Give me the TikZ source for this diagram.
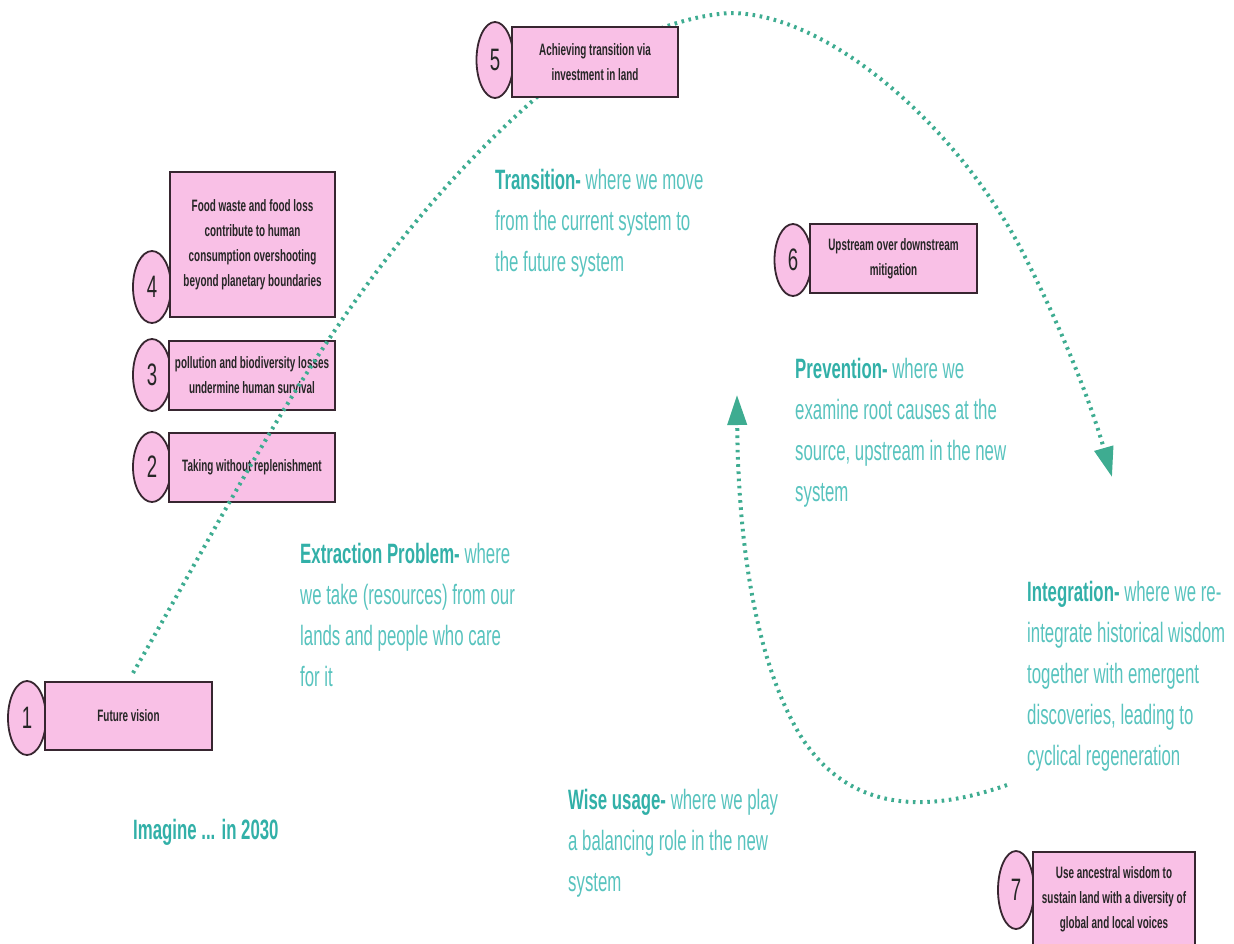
\documentclass[tikz,border=0pt]{standalone}
\usepackage{fontspec}
\setmainfont{Liberation Sans}[FakeStretch=0.6]
\usetikzlibrary{shapes.geometric,arrows.meta}
\definecolor{pinkfill}{RGB}{249,192,230}
\definecolor{boxline}{RGB}{55,38,48}
\definecolor{tealtxt}{RGB}{88,195,190}
\definecolor{tealbold}{RGB}{50,176,168}
\definecolor{dotcol}{RGB}{62,172,145}
\tikzset{
  numell/.style={ellipse, draw=boxline, line width=1.8pt, fill=pinkfill, inner sep=0pt,
    font=\fontsize{31}{31}\selectfont, text=black!85},
  pinkbox/.style={rectangle, draw=boxline, line width=2.2pt, fill=pinkfill, inner sep=0pt,
    align=center, font=\bfseries\fontsize{16.5}{25}\selectfont, text=black!85},
  tealnote/.style={anchor=base west, align=left, inner sep=0pt, text=tealtxt,
    font=\fontsize{28}{41}\selectfont},
  cyclearrow/.style={draw=dotcol, line width=4pt, dash pattern=on 2.6pt off 4.6pt,
    -{Triangle[length=30pt,width=19pt]}},
}
\newcommand{\hd}[1]{\textcolor{tealbold}{\bfseries #1}}
\begin{document}
\begin{tikzpicture}[x=1pt,y=-1pt]
\useasboundingbox (0,0) rectangle (1234,943);

% boxes 1-4
\node[numell, minimum width=38pt, minimum height=74pt] (n1) at (27,718) {1};
\node[pinkbox, minimum width=167pt, minimum height=68pt] (b1) at (128.5,716) {Future vision};
\node[numell, minimum width=38pt, minimum height=70pt] (n2) at (152,467) {2};
\node[pinkbox, minimum width=166pt, minimum height=69pt] (b2) at (252,467.5) {Taking without replenishment};
\node[numell, minimum width=38pt, minimum height=72pt] (n3) at (152,375) {3};
\node[pinkbox, minimum width=166pt, minimum height=69pt] (b3) at (252,375.5) {pollution and biodiversity losses\\undermine human survival};
\node[numell, minimum width=38pt, minimum height=72pt] (n4) at (152,287) {4};
\node[pinkbox, minimum width=165pt, minimum height=145pt] (b4) at (252.5,244.5) {Food waste and food loss\\contribute to human\\consumption overshooting\\beyond planetary boundaries};

% cycle curves
\coordinate (c1s) at (133,673);
\coordinate (c1e) at (1112,477);
\coordinate (c2s) at (1007,785);
\coordinate (c2e) at (737,395);
\draw[cyclearrow] (c1s) .. controls (250,470) and (350,260) .. (537,97)
   .. controls (595,55) and (665,17) .. (730,13)
   .. controls (830,13) and (960,130) .. (1023,253)
   .. controls (1060,325) and (1090,400) .. (c1e);
\draw[cyclearrow] (c2s) .. controls (930,812) and (850,815) .. (800,735)
   .. controls (755,660) and (738,540) .. (c2e);

% boxes 5-7
\node[numell, minimum width=37pt, minimum height=76pt] (n5) at (495,60) {5};
\node[pinkbox, minimum width=166pt, minimum height=70pt] (b5) at (595,62) {Achieving transition via\\investment in land};
\node[numell, minimum width=37pt, minimum height=72pt] (n6) at (793,260) {6};
\node[pinkbox, minimum width=167pt, minimum height=69pt] (b6) at (893.5,258.5) {Upstream over downstream\\mitigation};
\node[numell, minimum width=36pt, minimum height=78pt] (n7) at (1016,890) {7};
\node[pinkbox, minimum width=162pt, minimum height=94pt] (b7) at (1114,899) {Use ancestral wisdom to\\sustain land with a diversity of\\global and local voices};

% phase texts (anchored at the baseline of their last line)
\node[tealnote] (ttrans) at (495,271) {\hd{Transition-} where we move\\from the current system to\\the future system};
\node[tealnote] (tprev) at (795,501) {\hd{Prevention-} where we\\examine root causes at the\\source, upstream in the new\\system};
\node[tealnote] (textr) at (300,686) {\hd{Extraction Problem-} where\\we take (resources) from our\\lands and people who care\\for it};
\node[tealnote] (tint) at (1027,765) {\hd{Integration-} where we re-\\integrate historical wisdom\\together with emergent\\discoveries, leading to\\cyclical regeneration};
\node[tealnote] (twise) at (568,891) {\hd{Wise usage-} where we play\\a balancing role in the new\\system};
\node[tealnote] (timag) at (133,839) {\hd{Imagine ... in 2030}};
\end{tikzpicture}
\end{document}
